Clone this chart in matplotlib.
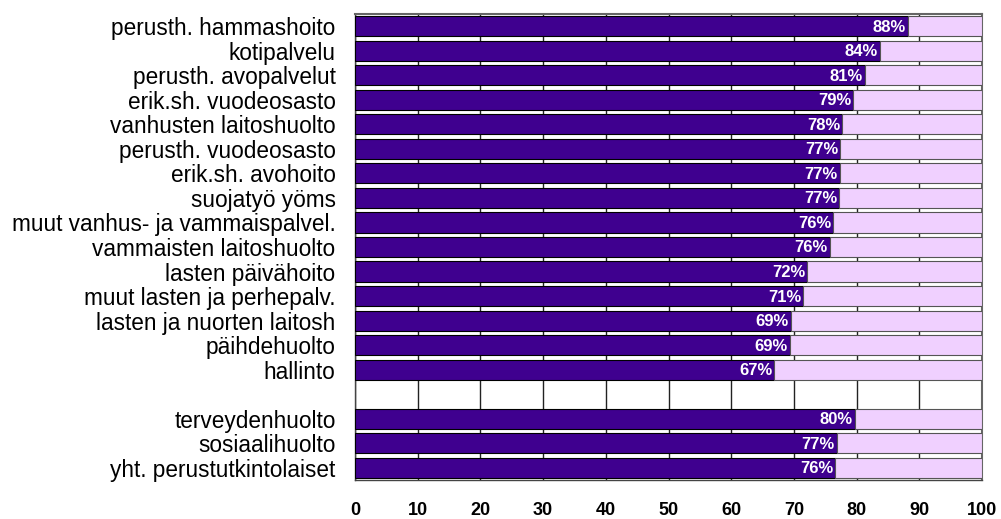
import matplotlib
matplotlib.use("Agg")
import matplotlib.pyplot as plt

plt.rcParams['font.family'] = ['Liberation Sans', 'DejaVu Sans']

categories_top = ["perusth. hammashoito", "kotipalvelu", "perusth. avopalvelut",
                  "erik.sh. vuodeosasto", "vanhusten laitoshuolto", "perusth. vuodeosasto",
                  "erik.sh. avohoito", "suojatyö yöms", "muut vanhus- ja vammaispalvel.",
                  "vammaisten laitoshuolto", "lasten päivähoito", "muut lasten ja perhepalv.",
                  "lasten ja nuorten laitosh", "päihdehuolto", "hallinto"]
values_top = [88.2, 83.7, 81.3, 79.5, 77.7, 77.4, 77.3, 77.2, 76.3, 75.7,
              72.1, 71.5, 69.5, 69.3, 66.9]
labels_top = [88, 84, 81, 79, 78, 77, 77, 77, 76, 76, 72, 71, 69, 69, 67]

categories_bottom = ["terveydenhuolto", "sosiaalihuolto", "yht. perustutkintolaiset"]
values_bottom = [79.7, 76.8, 76.6]
labels_bottom = [80, 77, 76]

xticks = [0, 10, 20, 30, 40, 50, 60, 70, 80, 90, 100]

dark = "#3F008F"
light = "#F0D0FF"

cats = categories_top + categories_bottom
vals = values_top + values_bottom
labs = labels_top + labels_bottom
pos = list(range(len(categories_top))) + [len(categories_top) + 1 + i for i in range(len(categories_bottom))]
nrows = len(categories_top) + 1 + len(categories_bottom)

fig = plt.figure(figsize=(10.01, 5.19), dpi=100)
ax = fig.add_axes([355/1001, 1 - 480/519, (982-355)/1001, (480-14)/519])

h = 0.82
rest = [100 - v for v in vals]
ax.barh(pos, vals, height=h, color=dark, edgecolor="black", linewidth=0.8, zorder=3)
ax.barh(pos, rest, left=vals, height=h, color=light, edgecolor="#555555", linewidth=0.8, zorder=3)

for p, v, l in zip(pos, vals, labs):
    ax.text(v - 0.3, p + 0.04, f"{l}%", ha="right", va="center", color="white",
            fontweight="bold", fontsize=12, zorder=4)

ax.set_xlim(0, 100)
ax.set_ylim(nrows - 0.5, -0.5)
ax.set_xticks(xticks)
ax.set_xticklabels([str(t) for t in xticks], fontweight="bold", fontsize=13)
ax.set_yticks(pos)
ax.set_yticklabels(cats, fontsize=16.3)
ax.tick_params(axis="x", length=0, pad=16)
ax.tick_params(axis="y", length=0, pad=14)
ax.xaxis.grid(True, color="#222222", linewidth=1.0, zorder=0)
ax.set_axisbelow(True)
for s in ["top", "right"]:
    ax.spines[s].set_color("#666666")
    ax.spines[s].set_linewidth(1.5)
for s in ["left", "bottom"]:
    ax.spines[s].set_color("#444444")
    ax.spines[s].set_linewidth(1.0)

fig.savefig("out.png", dpi=100)
